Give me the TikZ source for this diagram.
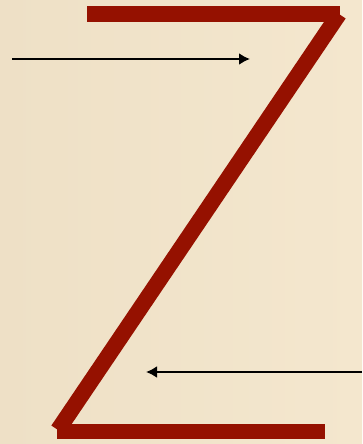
\documentclass[tikz,border=0pt]{standalone}
\usetikzlibrary{arrows.meta}

\definecolor{sfondoL}{RGB}{238,224,198}
\definecolor{sfondoR}{RGB}{244,231,206}
\definecolor{rossoZ}{RGB}{149,17,0}

\tikzset{
    tratto/.style={draw=rossoZ, line width=16pt, line cap=butt},
    freccia/.style={draw=black, line width=2.2pt, -{Latex[length=11pt,width=12pt]}}
}

\begin{document}
\begin{tikzpicture}[x=1pt, y=-1pt]

        % ==========================================
        % 1. Sfondo
        % ==========================================
        \shade[left color=sfondoL, right color=sfondoR] (0,0) rectangle (362,444);
        \useasboundingbox (0,0) rectangle (362,444);

        % ==========================================
        % 2. La Z
        % ==========================================
        \draw[tratto] (87,14) -- (340,14);        % barra superiore
        \draw[tratto] (339,14) -- (58,430);       % diagonale
        \draw[tratto, line width=15pt] (57,431.5) -- (325,431.5); % barra inferiore

        % ==========================================
        % 3. Frecce
        % ==========================================
        \coordinate (inizioA) at (12,59);
        \coordinate (fineA) at (250,59);
        \coordinate (inizioB) at (362,372);
        \coordinate (fineB) at (146,372);

        \draw[freccia] (inizioA) -- (fineA);
        \draw[freccia] (inizioB) -- (fineB);

    \end{tikzpicture}
\end{document}
